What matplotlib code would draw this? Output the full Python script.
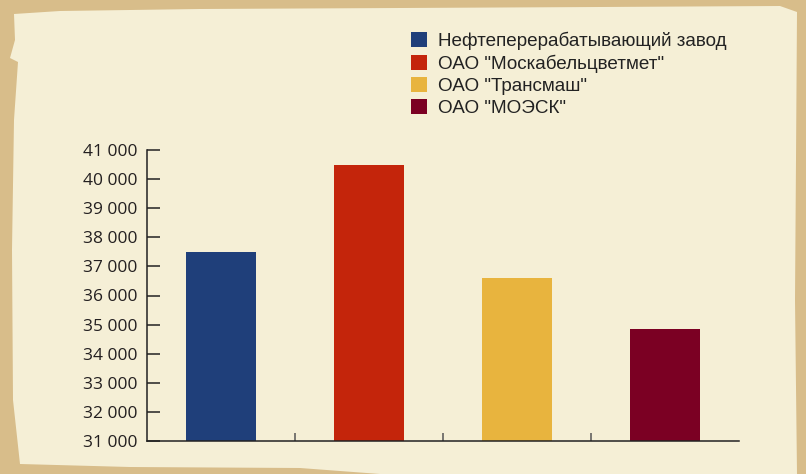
import matplotlib.pyplot as plt
from matplotlib.patches import Polygon, Patch
import numpy as np

companies = ['Нефтеперерабатывающий завод', 'ОАО "Москабельцветмет"',
             'ОАО "Трансмаш"', 'ОАО "МОЭСК"']
values = [37500, 40500, 36600, 34850]
colors = ['#1f3f7a', '#c4250b', '#e8b43e', '#7b0023']
yticks = list(range(31000, 41001, 1000))
ytick_labels = ['{:,}'.format(v).replace(',', ' ') for v in yticks]

W, H = 806, 474
fig = plt.figure(figsize=(W / 100, H / 100), dpi=100)
fig.patch.set_facecolor('#d8bd8a')

# parchment sheet with a ragged outline (pixel coords, top-left origin)
edge = [(14, 14), (60, 11), (200, 9), (400, 8), (600, 7), (780, 6), (797, 12),
        (796, 160), (795, 300), (797, 474), (380, 474), (300, 468), (130, 467),
        (20, 464), (13, 400), (12, 250), (14, 120), (18, 62), (10, 58), (15, 40)]
pts = [(x / W, 1 - y / H) for x, y in edge]
fig.add_artist(Polygon(pts, closed=True, transform=fig.transFigure,
                       facecolor='#f5efd6', edgecolor='none', zorder=0))

ax = fig.add_axes([147 / W, 1 - 441 / H, (739 - 147) / W, (441 - 150) / H])
ax.patch.set_alpha(0)

x = np.arange(len(values))
ax.bar(x, [v - 31000 for v in values], bottom=31000, width=0.475, color=colors, zorder=2)

ax.set_xlim(-0.5, 3.5)
ax.set_ylim(31000, 41000)
ax.set_yticks(yticks)
ax.set_yticklabels(ytick_labels, family='Open Sans', fontsize=12.5, color='#231f20')
ax.set_xticks([0.5, 1.5, 2.5])
ax.set_xticklabels([])
ax.tick_params(axis='y', direction='in', length=9.5, width=1.1, color='#222222', pad=7)
ax.tick_params(axis='x', direction='in', length=5.5, width=1.1, color='#555555')
for s in ['top', 'right']:
    ax.spines[s].set_visible(False)
for s in ['left', 'bottom']:
    ax.spines[s].set_color('#222222')
    ax.spines[s].set_linewidth(1.1)

handles = [Patch(facecolor=c, edgecolor='none') for c in colors]
fig.legend(handles, companies, loc='upper left', bbox_to_anchor=(396 / W, 1 - 17 / H),
           frameon=False, prop={'family': 'Liberation Sans', 'size': 13.6},
           handlelength=0.85, handleheight=0.85, handletextpad=0.55,
           labelspacing=0.22, borderpad=0.3, labelcolor='#222222')

fig.savefig('out.png', dpi=100, facecolor=fig.get_facecolor())
